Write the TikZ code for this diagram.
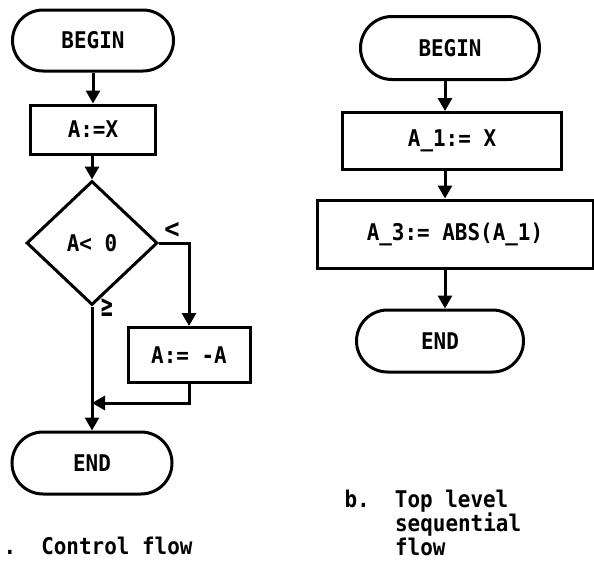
\documentclass[tikz,border=0pt]{standalone}
\usepackage{fontspec}
\setmainfont[FakeStretch=0.91,BoldFont={DejaVu Sans Mono Bold}]{DejaVu Sans Mono}
\usetikzlibrary{shapes.misc,shapes.geometric,arrows.meta}
\begin{document}
\begin{tikzpicture}[x=1pt,y=-1pt,line width=3pt,
  font=\fontsize{23}{25}\selectfont\bfseries,
  term/.style={draw,rounded rectangle,inner sep=0pt},
  proc/.style={draw,rectangle,inner sep=0pt},
  arr/.style={-{Triangle[width=14pt,length=13pt]}},
  captxt/.style={anchor=base west,inner sep=0pt}]
\useasboundingbox (0,0) rectangle (594,562);
% left: control flow
\node[term,minimum width=161pt,minimum height=61pt] (b1) at (93,40.5) {BEGIN};
\node[proc,minimum width=125pt,minimum height=49pt] (x1) at (93,129.5) {A:=X};
\node[draw,diamond,minimum width=131pt,minimum height=124pt,inner sep=0pt] (d) at (92,243) {A< 0};
\node[proc,minimum width=122pt,minimum height=55pt] (n) at (189,355) {A:= -A};
\node[term,minimum width=160pt,minimum height=62pt] (e1) at (92,463) {END};
\node[inner sep=0pt,font=\fontsize{28}{28}\selectfont\bfseries] (lt) at (172,230) {<};
\node[inner sep=0pt,font=\fontsize{22}{22}\selectfont\bfseries] (ge) at (107,308) {\scalebox{1}[1.4]{≥}};
\coordinate (jy) at (0,403);
\coordinate (j) at (d.south |- jy);
\draw[arr] (b1.south) -- (x1.north);
\draw[arr] (x1.south -| d.north) -- (d.north);
\draw[arr] (d.east) -| (n.north);
\draw[arr] (n.south) |- (j);
\draw[arr] (d.south) -- (e1.north);
\node[captxt] (capa) at (2,554) {.~~Control flow};
% right: top level sequential flow
\coordinate (s) at (445,0);
\node[term,minimum width=179pt,minimum height=63pt] (b2) at (450,48) {BEGIN};
\node[proc,minimum width=219pt,minimum height=57pt] (a1) at (452,141) {A\_1:= X};
\node[proc,minimum width=276pt,minimum height=68pt] (a3) at (455,234) {A\_3:= ABS(A\_1)};
\node[term,minimum width=167pt,minimum height=62pt] (e2) at (440,341) {END};
\draw[arr] (b2.south -| s) -- (a1.north -| s);
\draw[arr] (a1.south -| s) -- (a3.north -| s);
\draw[arr] (a3.south -| s) -- (e2.north -| s);
\node[captxt] (capb1) at (343,507) {b.~~Top level};
\node[captxt] (capb2) at (393.6,531) {sequential};
\node[captxt] (capb3) at (393.6,555) {flow};
\end{tikzpicture}
\end{document}
